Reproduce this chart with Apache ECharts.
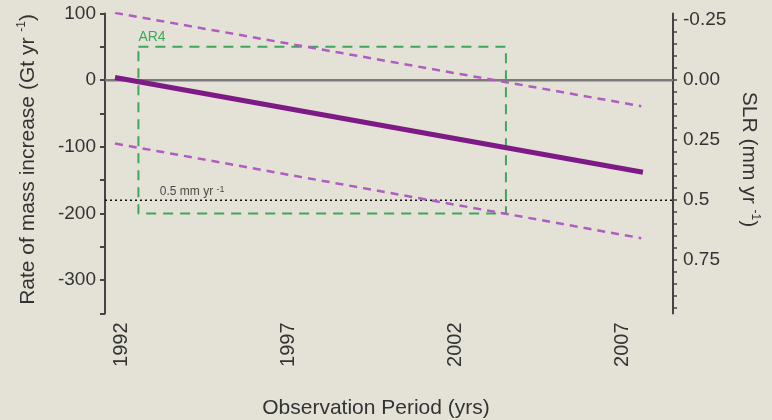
<!DOCTYPE html>
<html>
<head>
<meta charset="utf-8">
<script src="https://cdn.jsdelivr.net/npm/echarts@6/dist/echarts.min.js"></script>
<style>
  html, body { margin: 0; padding: 0; background: #e4e2d7; }
  #chart { width: 772px; height: 420px; }
</style>
</head>
<body>
<div id="chart"></div>
<script>
// categories on the x axis (one per year, labels every 5th)
const years = ['1992', '1993', '1994', '1995', '1996', '1997', '1998', '1999', '2000',
  '2001', '2002', '2003', '2004', '2005', '2006', '2007', '2008'];

// trend lines, [year, Gt/yr]
const trendMean = [[1992.3, 4], [2008.1, -138]];
const trendUpper = [[1992.3, 101], [2008.05, -39]];
const trendLower = [[1992.3, -95], [2008.05, -237]];

// AR4 assessment box corners
const ar4Box = [[1993, 50], [2004, 50], [2004, -200], [1993, -200], [1993, 50]];

// reference levels
const zeroLine = [[1992, 0], [2009, 0]];
const halfMmLine = [[1992, -180], [2009, -180]];
const halfMmLabelAt = [1993.64, -180];

// right axis (SLR, mm/yr), 1 mm/yr = 360 Gt/yr
const gtPerMm = 360;
const slrLabels = [-0.25, 0, 0.25, 0.5, 0.75];
const slrTicks = [];
for (let k = -5; k <= 19; k++) slrTicks.push(+(k * 0.05).toFixed(2));

const font = 'Arial, Liberation Sans, sans-serif';
const axisColor = '#444';
const textColor = '#333';

const chart = echarts.init(document.getElementById('chart'));

chart.setOption({
  animation: false,
  backgroundColor: '#e4e2d7',
  textStyle: { fontFamily: font },
  grid: { left: 105, right: 99, top: 13.5, bottom: 106.5, containLabel: false, outerBoundsMode: 'none' },
  xAxis: [
    {
      type: 'category',
      data: years,
      boundaryGap: true,
      name: 'Observation Period (yrs)',
      nameLocation: 'middle',
      nameGap: 84,
      nameTextStyle: { fontSize: 21, color: textColor, fontFamily: font, padding: [0, 26, 0, 0] },
      axisLine: { lineStyle: { color: axisColor, width: 2 } },
      axisTick: { interval: 0, length: 4, lineStyle: { color: axisColor, width: 2 } },
      axisLabel: {
        interval: 4,
        rotate: 90,
        margin: 9,
        fontSize: 20,
        color: textColor,
        fontFamily: font,
      },
      splitLine: { show: false },
    },
    {
      type: 'value',
      min: 1992,
      max: 2009,
      show: false,
    },
  ],
  yAxis: [
    {
      type: 'value',
      min: -350,
      max: 100,
      interval: 50,
      name: 'Rate of mass increase (Gt yr {sup|-1})',
      nameLocation: 'middle',
      nameGap: 65,
      nameTextStyle: {
        fontSize: 21,
        color: textColor,
        fontFamily: font,
        lineHeight: 24,
        padding: [0, 0, 0, 8],
        rich: {
          sup: { fontSize: 12, lineHeight: 12, verticalAlign: 'top', color: textColor, fontFamily: font },
        },
      },
      axisLine: { show: true, lineStyle: { color: axisColor, width: 2 } },
      axisTick: { show: true, length: 5, lineStyle: { color: axisColor, width: 2 } },
      axisLabel: {
        margin: 9,
        fontSize: 19,
        color: textColor,
        fontFamily: font,
        formatter: (v) => (v % 100 === 0 ? String(v) : ''),
      },
      splitLine: { show: false },
    },
    {
      type: 'value',
      position: 'right',
      inverse: true,
      min: -100 / gtPerMm,
      max: 350 / gtPerMm,
      name: 'SLR (mm yr {sup|-1})',
      nameLocation: 'middle',
      nameRotate: -90,
      nameGap: 62,
      nameTextStyle: {
        fontSize: 21,
        color: textColor,
        fontFamily: font,
        lineHeight: 24,
        padding: [0, 8, 0, 0],
        rich: {
          sup: { fontSize: 12, lineHeight: 12, verticalAlign: 'top', color: textColor, fontFamily: font },
        },
      },
      axisLine: { show: true, lineStyle: { color: axisColor, width: 2 } },
      axisTick: { show: true, length: 4, customValues: slrTicks, lineStyle: { color: axisColor, width: 1.5 } },
      axisLabel: {
        margin: 10,
        fontSize: 19,
        color: textColor,
        fontFamily: font,
        customValues: slrLabels,
        formatter: (v) => (v === 0.5 ? '0.5' : v.toFixed(2)),
      },
      splitLine: { show: false },
    },
  ],
  series: [
    {
      type: 'line',
      xAxisIndex: 1,
      data: zeroLine,
      symbol: 'none',
      lineStyle: { color: '#7a7a7a', width: 2.5 },
    },
    {
      type: 'line',
      xAxisIndex: 1,
      data: halfMmLine,
      symbol: 'none',
      lineStyle: { color: '#111', width: 1.5, type: [2, 3] },
    },
    {
      type: 'scatter',
      xAxisIndex: 1,
      data: [halfMmLabelAt],
      symbolSize: 0,
      label: {
        show: true,
        position: 'top',
        align: 'left',
        distance: 1,
        formatter: '0.5 mm yr {sup|-1}',
        fontSize: 12,
        color: '#222',
        fontFamily: font,
        lineHeight: 14,
        rich: {
          sup: { fontSize: 9, lineHeight: 9, verticalAlign: 'top', color: '#222', fontFamily: font },
        },
      },
    },
    {
      type: 'line',
      xAxisIndex: 1,
      data: ar4Box,
      symbol: 'none',
      lineStyle: { color: '#3fa65b', width: 2, type: [10, 7] },
      markPoint: {
        symbolSize: 0,
        data: [{ coord: ar4Box[0] }],
        label: {
          show: true,
          position: 'top',
          align: 'left',
          distance: 3,
          formatter: 'AR4',
          fontSize: 14,
          color: '#3fa65b',
          fontFamily: font,
        },
      },
    },
    {
      type: 'line',
      xAxisIndex: 1,
      data: trendUpper,
      symbol: 'none',
      lineStyle: { color: '#b05cc0', width: 2.5, type: [8, 6] },
    },
    {
      type: 'line',
      xAxisIndex: 1,
      data: trendLower,
      symbol: 'none',
      lineStyle: { color: '#b05cc0', width: 2.5, type: [8, 6] },
    },
    {
      type: 'line',
      xAxisIndex: 1,
      data: trendMean,
      symbol: 'none',
      lineStyle: { color: '#7d1a86', width: 5 },
    },
  ],
});
</script>
</body>
</html>
